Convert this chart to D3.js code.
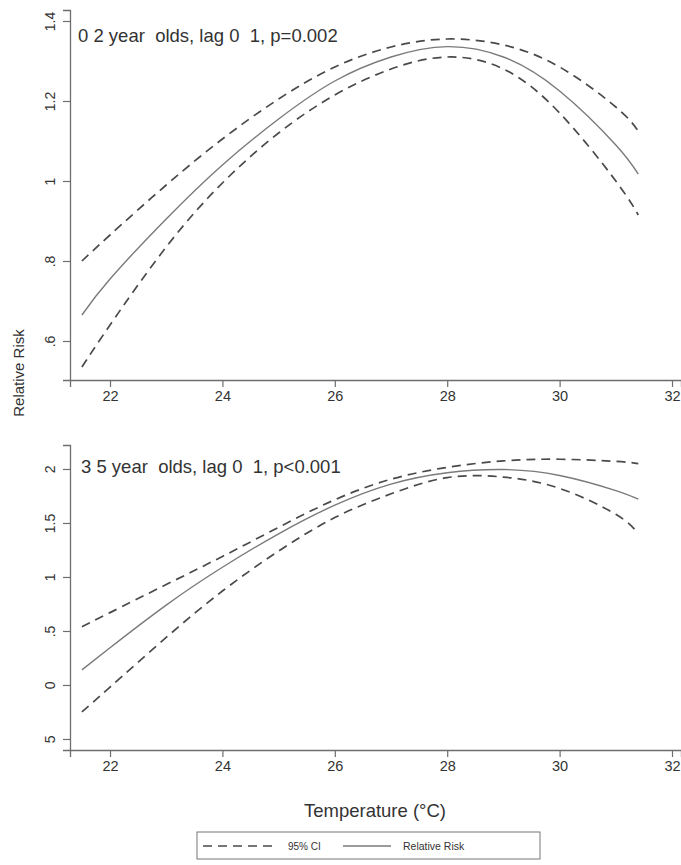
<!DOCTYPE html>
<html>
<head>
<meta charset="utf-8">
<script src="https://cdn.jsdelivr.net/npm/d3@7"></script>
<style>
  body { margin: 0; background: #fff; }
  text { font-family: "Liberation Sans", Arial, sans-serif; fill: #333; }
</style>
</head>
<body>
<div id="container"></div>
<script>
/* DATA */
const temps = [21.5, 22, 23, 24, 25, 26, 27, 28, 29, 30, 31, 31.4]

// 0-2 year olds
const rrTop    = [0.665, 0.755, 0.905, 1.04, 1.155, 1.25, 1.31, 1.336, 1.31, 1.225, 1.09, 1.017]
const upperTop = [0.80, 0.865, 0.99, 1.105, 1.205, 1.285, 1.335, 1.355, 1.34, 1.285, 1.185, 1.125]
const lowerTop = [0.535, 0.64, 0.835, 0.995, 1.12, 1.215, 1.28, 1.31, 1.28, 1.17, 1.0, 0.915]

// 3-5 year olds
const rrBot    = [0.14, 0.345, 0.74, 1.09, 1.40, 1.665, 1.86, 1.965, 1.995, 1.94, 1.80, 1.72]
const upperBot = [0.54, 0.67, 0.93, 1.19, 1.46, 1.715, 1.905, 2.015, 2.075, 2.09, 2.07, 2.05]
const lowerBot = [-0.25, -0.02, 0.44, 0.87, 1.24, 1.55, 1.77, 1.92, 1.925, 1.82, 1.58, 1.40]

const xTicks = [22, 24, 26, 28, 30, 32]
const yTicksTop = [0.6, 0.8, 1, 1.2, 1.4]
const yTickLabelsTop = [".6", ".8", "1", "1.2", "1.4"]
const yTicksBot = [-0.5, 0, 0.5, 1, 1.5, 2]
const yTickLabelsBot = ["5", "0", ".5", "1", "1.5", "2"]

const titleTop = "0 2 year  olds, lag 0  1, p=0.002"
const titleBot = "3 5 year  olds, lag 0  1, p<0.001"

/* CONSTANTS */
const width = 681, height = 865
const axisCol = "#6e6e6e"
const dashCol = "#4a4a4a", solidCol = "#7a7a7a"

const svg = d3.select("#container")
  .append("svg")
  .attr("width", width)
  .attr("height", height)

const xScale = d3.scaleLinear()
  .domain([21.288, 32.16])
  .range([70, 681])

function panel(opts) {
  const yScale = d3.scaleLinear()
    .domain(opts.yDomain)
    .range([opts.bottom, opts.top])

  const g = svg.append("g")

  // x axis
  const xAxis = d3.axisBottom(xScale).tickValues(xTicks).tickSize(7).tickFormat(d3.format("d"))
  const gx = g.append("g")
    .attr("transform", `translate(0,${opts.bottom})`)
    .call(xAxis)
  gx.select(".domain").attr("stroke", axisCol).attr("stroke-width", 1.3)
  gx.selectAll(".tick line").attr("stroke", axisCol).attr("stroke-width", 1.2)
  gx.selectAll(".tick text")
    .attr("font-size", "14.5px")
    .attr("fill", "#333")
    .attr("dy", "0.75em")
    .attr("font-family", "Liberation Sans, Arial, sans-serif")

  // y axis
  const labels = opts.yLabels
  const yAxis = d3.axisLeft(yScale).tickValues(opts.yTicks).tickSize(7)
    .tickFormat((d, i) => labels[i])
  const gy = g.append("g")
    .attr("transform", "translate(70,0)")
    .call(yAxis)
  gy.select(".domain").attr("stroke", axisCol).attr("stroke-width", 1.3)
  gy.selectAll(".tick line").attr("stroke", axisCol).attr("stroke-width", 1.2)
  gy.selectAll(".tick text")
    .attr("font-size", "14px")
    .attr("fill", "#333")
    .attr("font-family", "Liberation Sans, Arial, sans-serif")
    .attr("text-anchor", "middle")
    .attr("x", 0)
    .attr("dy", 0)
    .attr("transform", "translate(-15,0) rotate(-90)")

  // title
  g.append("text")
    .attr("x", opts.titleX)
    .attr("y", opts.titleY)
    .attr("font-size", "18.5px")
    .style("white-space", "pre")
    .attr("xml:space", "preserve")
    .text(opts.title)

  const line = d3.line()
    .x((d, i) => xScale(temps[i]))
    .y(d => yScale(d))
    .curve(d3.curveNatural)

  ;[opts.upper, opts.lower].forEach(s => {
    g.append("path")
      .datum(s)
      .attr("d", line)
      .attr("fill", "none")
      .attr("stroke", dashCol)
      .attr("stroke-width", 1.7)
      .attr("stroke-dasharray", "9,6")
  })

  g.append("path")
    .datum(opts.rr)
    .attr("d", line)
    .attr("fill", "none")
    .attr("stroke", solidCol)
    .attr("stroke-width", 1.4)
}

panel({
  yDomain: [0.5025, 1.4275], top: 10, bottom: 380,
  yTicks: yTicksTop, yLabels: yTickLabelsTop,
  title: titleTop, titleX: 78, titleY: 42,
  rr: rrTop, upper: upperTop, lower: lowerTop
})

panel({
  yDomain: [-0.602, 2.222], top: 445, bottom: 750,
  yTicks: yTicksBot, yLabels: yTickLabelsBot,
  title: titleBot, titleX: 81, titleY: 473,
  rr: rrBot, upper: upperBot, lower: lowerBot
})

// axis titles
svg.append("text")
  .attr("transform", "translate(24,373) rotate(-90)")
  .attr("text-anchor", "middle")
  .attr("font-size", "15px")
  .text("Relative Risk")

svg.append("text")
  .attr("x", 375)
  .attr("y", 817)
  .attr("text-anchor", "middle")
  .attr("font-size", "18.5px")
  .text("Temperature (°C)")

// legend
const legend = svg.append("g")
legend.append("rect")
  .attr("x", 197).attr("y", 832)
  .attr("width", 343).attr("height", 27)
  .attr("fill", "#fff")
  .attr("stroke", "#777")
  .attr("stroke-width", 1)
legend.append("line")
  .attr("x1", 203).attr("x2", 277).attr("y1", 846).attr("y2", 846)
  .attr("stroke", dashCol).attr("stroke-width", 1.7).attr("stroke-dasharray", "9,6")
legend.append("text")
  .attr("x", 288).attr("y", 850)
  .attr("font-size", "10px")
  .text("95% CI")
legend.append("line")
  .attr("x1", 343).attr("x2", 391).attr("y1", 846).attr("y2", 846)
  .attr("stroke", solidCol).attr("stroke-width", 1.4)
legend.append("text")
  .attr("x", 403).attr("y", 850)
  .attr("font-size", "10.5px")
  .text("Relative Risk")
</script>
</body>
</html>
